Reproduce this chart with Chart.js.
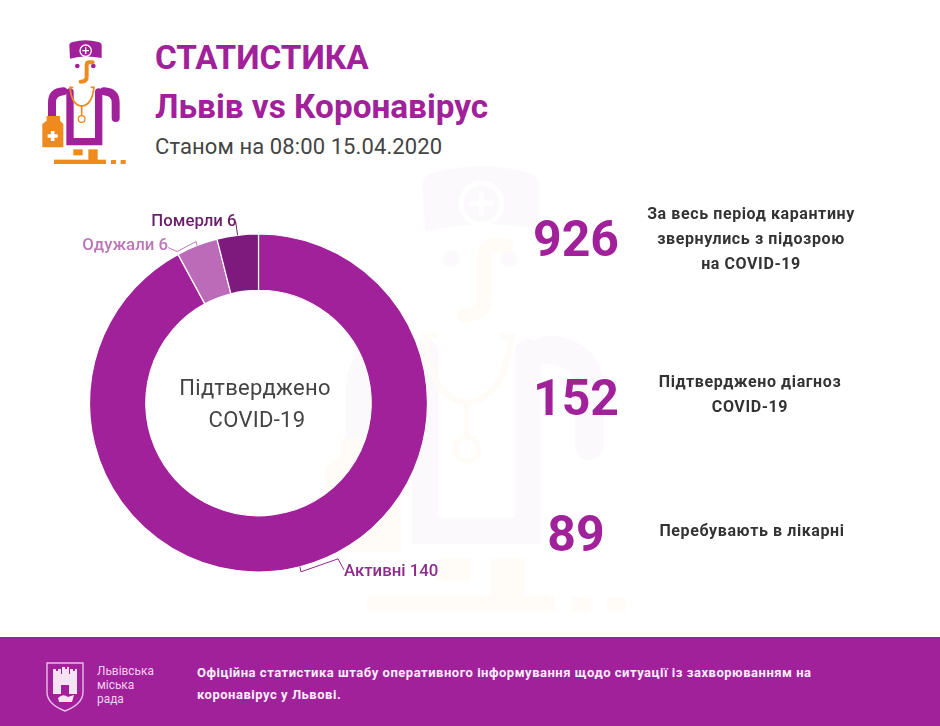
<!DOCTYPE html>
<html lang="uk">
<head>
<meta charset="utf-8">
<title>Статистика Львів vs Коронавірус</title>
<script src="https://cdn.jsdelivr.net/npm/chart.js@4"></script>
<style>
  html, body { margin: 0; padding: 0; background: #fff; }
  #page { position: relative; width: 940px; height: 726px; overflow: hidden; font-family: Roboto, sans-serif; background: #fff; }
  #page > * { position: absolute; }
  .t { white-space: nowrap; }
  .title { left: 155px; color: #a0219a; font-weight: 700; font-size: 33.3px; line-height: 40px; }
  .sub { left: 155px; top: 132px; color: #444; font-weight: 400; font-size: 22px; line-height: 30px; letter-spacing: .1px; }
  .center { left: 155px; width: 200px; text-align: center; color: #444; font-size: 22px; line-height: 32px; letter-spacing: .3px; }
  .num { width: 120px; text-align: center; color: #a0219a; font-weight: 700; font-size: 50px; line-height: 60px; }
  .cap { width: 260px; text-align: center; color: #333; font-weight: 700; font-size: 16px; line-height: 25px; letter-spacing: .6px; }
  #footer { left: 0; top: 637px; width: 940px; height: 89px; background: #a0219a; }
  .foot { left: 197px; color: #fbeefa; font-weight: 700; font-size: 13px; line-height: 22px; letter-spacing: .52px; }
  .city { left: 97px; color: #f2d3ef; font-weight: 400; font-size: 13.5px; line-height: 14px; transform: scaleX(.88); transform-origin: left; }
  #chartWrap { left: 0; top: 200px; width: 517px; height: 406px; }
  .purple { fill: var(--p); }
  .orange { fill: var(--o); }
  .lineP { fill: none; stroke: var(--p); stroke-linecap: round; }
  .lineO { fill: none; stroke: var(--o); stroke-linecap: round; }
  .logo { --p: #a0219a; --o: #ef8a1f; --w: #fff; }
  .ghost { --p: #fcf9fc; --o: #fffbf7; --w: #fff; }
</style>
</head>
<body>
<div id="page">
  <svg width="0" height="0" style="left:0;top:0">
    <defs>
      <g id="doctor">
        <path class="purple" d="M118 46 Q118 38 128 36 Q166 26 205 36 Q215 38 215 46 L215 84 Q166 74 120 86 Z"/>
        <circle cx="167" cy="62" r="17" fill="none" stroke="var(--w)" stroke-width="4"/>
        <path d="M167 52 V72 M157 62 H177" stroke="var(--w)" stroke-width="4"/>
        <circle class="purple" cx="142" cy="108" r="7"/>
        <circle class="purple" cx="190" cy="108" r="7"/>
        <path class="lineO" stroke-width="12" d="M188 97 H178 Q170 97 170 106 V140 Q170 155 152 155"/>
        <path class="lineP" stroke-width="24" d="M66 264 V218 Q66 186 100 184"/>
        <path class="lineP" stroke-width="24" d="M257 264 V218 Q257 186 222 184"/>
        <path class="lineP" stroke-width="22" d="M120 186 V335 H206 V186"/>
        <path class="lineO" stroke-width="5" d="M128 172 H120 Q125 226 155 228 Q186 226 192 172 H184"/>
        <path class="lineO" stroke-width="5" d="M155 228 V256"/>
        <circle cx="155" cy="267" r="10" fill="none" stroke="var(--o)" stroke-width="4"/>
        <path class="orange" d="M50 258 H90 V272 L100 282 V352 H37 V282 L50 272 Z"/>
        <path d="M68 303 V333 M53 318 H83" stroke="var(--w)" stroke-width="11"/>
        <rect class="orange" x="130" y="358" width="28" height="18"/>
        <rect class="orange" x="175" y="358" width="28" height="32"/>
        <rect class="orange" x="72" y="389" width="156" height="13"/>
        <rect class="orange" x="243" y="390" width="15" height="12"/>
        <rect class="orange" x="272" y="390" width="15" height="12"/>
      </g>
    </defs>
  </svg>

  <!-- faint watermark behind the stats -->
  <svg class="ghost" style="left:281px;top:129px" width="432" height="504" viewBox="0 0 360 420"><use href="#doctor"/></svg>
  <svg class="logo" style="left:30px;top:30px" width="120" height="140" viewBox="0 0 360 420"><use href="#doctor"/></svg>

  <div class="t title" style="top:38px">СТАТИСТИКА</div>
  <div class="t title" style="top:87px">Львів vs Коронавірус</div>
  <div class="t sub">Станом на 08:00 15.04.2020</div>

  <div id="chartWrap"><canvas id="donut"></canvas></div>
  <div class="t center" style="top:372px">Підтверджено</div>
  <div class="t center" style="top:404px;left:157px">COVID-19</div>

  <div id="stats"></div>

  <div id="footer"></div>
  <svg style="left:46px;top:662px" width="38" height="50" viewBox="0 0 38 50">
    <path d="M1 1 H37 V30 Q37 42 19 49 Q1 42 1 30 Z" fill="none" stroke="#e9bfe6" stroke-width="1.4"/>
    <path d="M7 12 V7 H10 V9 H12 V7 H15 V12 H16 V5 H19 V7 H21 V5 H23 V12 H24 V7 H27 V9 H29 V7 H31 V12 V32 H7 Z" fill="#f6e4f4"/>
    <rect x="15" y="23" width="8" height="9" fill="#a0219a"/>
    <path d="M12 36 Q17 31 22 35 L28 33 L26 40 H13 Z" fill="#f6e4f4"/>
  </svg>
  <div class="t city" style="top:663px">Львівська</div>
  <div class="t city" style="top:677px">міська</div>
  <div class="t city" style="top:691px">рада</div>
  <div class="t foot" style="top:662px">Офіційна статистика штабу оперативного інформування щодо ситуації із захворюванням на</div>
  <div class="t foot" style="top:684px">коронавірус у Львові.</div>
</div>

<script>
const sliceNames = ['Активні', 'Одужали', 'Померли'];
const sliceValues = [140, 6, 6];
const sliceColors = ['#a0219a', '#bb6bb8', '#7e1a7e'];
const labelColors = ['#8f2a8f', '#bb78b8', '#6b1f6b'];

const statValues = ['926', '152', '89'];
const statCaptions = [
  ['За весь період карантину', 'звернулись з підозрою', 'на COVID-19'],
  ['Підтверджено діагноз', 'COVID-19'],
  ['Перебувають в лікарні']
];

// where each stat row sits on the page
const statLayout = [
  { numLeft: 516, numTop: 209, capLeft: 621, capTop: 201 },
  { numLeft: 516, numTop: 368, capLeft: 620, capTop: 369 },
  { numLeft: 516, numTop: 504, capLeft: 622, capTop: 518 }
];

const stats = document.getElementById('stats');
statValues.forEach((v, i) => {
  const l = statLayout[i];
  const num = document.createElement('div');
  num.className = 't num';
  num.style.cssText = `position:absolute;left:${l.numLeft}px;top:${l.numTop}px`;
  num.textContent = v;
  stats.appendChild(num);
  statCaptions[i].forEach((line, j) => {
    const cap = document.createElement('div');
    cap.className = 't cap';
    cap.style.cssText = `position:absolute;left:${l.capLeft}px;top:${l.capTop + j * 25}px`;
    cap.textContent = line;
    stats.appendChild(cap);
  });
});

// leader bends and label spot, relative to the outer middle of each slice
const leaders = [
  { bends: [[1, 5], [38, -8], [44, 3]], text: [44, 9], align: 'left' },
  { bends: [[-1, -4], [-20, 6], [-29, 2]], text: [-29, 4], align: 'right' },
  { bends: [[-2, -14]], text: [-1, -9], align: 'right' }
];

const leaderPlugin = {
  id: 'leaderLabels',
  afterDatasetsDraw(chart) {
    const { ctx } = chart;
    chart.getDatasetMeta(0).data.forEach((arc, i) => {
      const { x, y, startAngle, endAngle, outerRadius } = arc.getProps(['x', 'y', 'startAngle', 'endAngle', 'outerRadius'], true);
      const mid = (startAngle + endAngle) / 2;
      const ax = x + Math.cos(mid) * outerRadius;
      const ay = y + Math.sin(mid) * outerRadius;
      const l = leaders[i];
      ctx.save();
      ctx.strokeStyle = labelColors[i];
      ctx.lineWidth = 1;
      ctx.beginPath();
      ctx.moveTo(ax, ay);
      l.bends.forEach(b => ctx.lineTo(ax + b[0], ay + b[1]));
      ctx.stroke();
      ctx.fillStyle = labelColors[i];
      ctx.font = '500 16.8px Roboto';
      ctx.textAlign = l.align;
      ctx.textBaseline = 'alphabetic';
      ctx.fillText(`${sliceNames[i]} ${sliceValues[i]}`, ax + l.text[0], ay + l.text[1]);
      ctx.restore();
    });
  }
};

new Chart(document.getElementById('donut'), {
  type: 'doughnut',
  data: {
    labels: sliceNames,
    datasets: [{
      data: sliceValues,
      backgroundColor: sliceColors,
      borderColor: '#fff',
      borderWidth: 1.2
    }]
  },
  options: {
    responsive: true,
    maintainAspectRatio: false,
    animation: false,
    radius: 169,
    cutout: 115,
    layout: { padding: 30 },
    plugins: { legend: { display: false }, tooltip: { enabled: false } }
  },
  plugins: [leaderPlugin]
});
</script>
</body>
</html>
